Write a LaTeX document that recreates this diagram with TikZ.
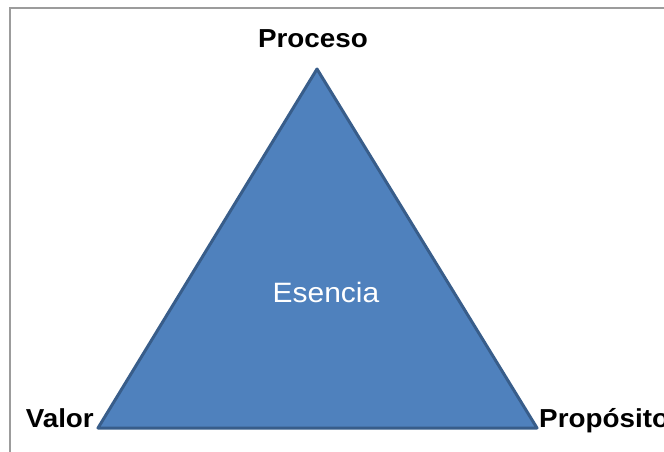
\documentclass[tikz,border=0pt]{standalone}
\usepackage{fontspec}
\setmainfont{Liberation Sans}[FakeStretch=1.07]
\usetikzlibrary{calc}

\definecolor{triFill}{HTML}{4F81BD}
\definecolor{triLine}{HTML}{385D8A}
\definecolor{frameGray}{HTML}{9C9C9C}

\begin{document}
\begin{tikzpicture}[x=1pt,y=-1pt]

% Page size
\useasboundingbox (0,0) rectangle (664,452);

% Frame (top and left edges only visible)
\draw[frameGray, line width=2pt] (10,452) -- (10,8.5) -- (664,8.5);

% Define vertices of triangle
\coordinate (P) at (317,69);
\coordinate (V) at (98,428);
\coordinate (R) at (537,428);

% Draw triangle
\draw[triLine, fill=triFill, line width=3pt, line join=round] (P) -- (R) -- (V) -- cycle;

% Vertex labels
\node[anchor=base, inner sep=0pt, font=\fontsize{26}{26}\selectfont\bfseries] (proceso) at (313,48) {Proceso};
\node[anchor=base east, inner sep=0pt, font=\fontsize{26}{26}\selectfont\bfseries] (valor) at ($(V)+(-4,-1)$) {Valor};
\node[anchor=base west, inner sep=0pt, font=\fontsize{26}{26}\selectfont\bfseries] (proposito) at ($(R)+(2,-1)$) {Propósito};

% Centre label
\node[anchor=base, inner sep=0pt, white, font=\fontsize{28}{28}\selectfont] (esencia) at (326,302) {Esencia};

\end{tikzpicture}
\end{document}
